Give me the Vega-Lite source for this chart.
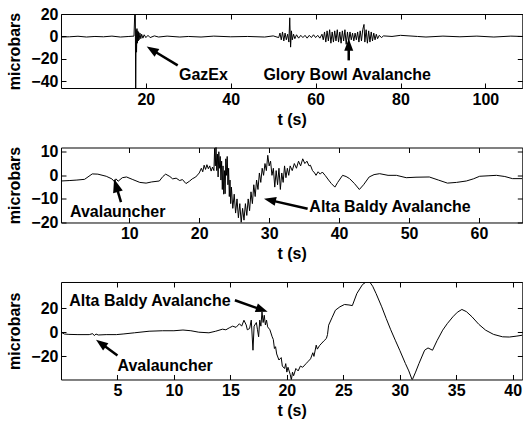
{
  "$schema": "https://vega.github.io/schema/vega-lite/v6.json",
  "padding": {"left": 6, "top": 5, "right": 0, "bottom": 0},
  "bounds": "flush",
  "spacing": 59.5,
  "config": {
    "font": "Liberation Sans",
    "view": {"stroke": "black", "strokeWidth": 1},
    "axis": {
      "domain": false, "grid": false,
      "labelFont": "Liberation Sans", "labelFontSize": 16, "labelFontWeight": "bold", "labelColor": "black",
      "titleFont": "Liberation Sans", "titleFontSize": 16, "titleFontWeight": "bold", "titleColor": "black",
      "tickColor": "black", "tickSize": -5, "labelPadding": 8, "labelFlush": false, "labelOverlap": false
    },
    "axisLeft": {"titlePadding": 8}
  },
  "datasets": {
    "p1": [
      {"t":0,"v":-0.5},{"t":2,"v":-0.3},{"t":4,"v":0.2},{"t":6,"v":-0.5},{"t":8,"v":0},{"t":10,"v":-0.3},{"t":12,"v":0.3},{"t":14,"v":-0.5},{"t":16,"v":0},{"t":17.2,"v":0.3},
      {"t":17.5,"v":35},{"t":17.6,"v":-60},{"t":17.7,"v":6},{"t":17.8,"v":-14},{"t":17.9,"v":7},{"t":18.0,"v":-6},{"t":18.1,"v":5},{"t":18.2,"v":-4},{"t":18.3,"v":4},{"t":18.4,"v":-3},{"t":18.6,"v":3},{"t":18.8,"v":-2},{"t":19.0,"v":2},{"t":19.3,"v":-1.5},{"t":19.6,"v":1.5},{"t":20,"v":-1},{"t":20.5,"v":1},{"t":21,"v":-1},{"t":22,"v":0.5},{"t":23,"v":-0.5},{"t":25,"v":0.3},{"t":28,"v":-0.5},{"t":30,"v":0},{"t":33,"v":-0.5},{"t":36,"v":0.3},{"t":40,"v":-0.3},{"t":44,"v":0},{"t":48,"v":-0.5},{"t":50,"v":0.5},
      {"t":51.3,"v":-1},{"t":51.6,"v":3},{"t":51.9,"v":-3},{"t":52.2,"v":4},{"t":52.5,"v":-4},{"t":52.8,"v":3},{"t":53.1,"v":-3},{"t":53.4,"v":2},{"t":53.7,"v":-5},{"t":53.9,"v":16.6},{"t":54.1,"v":-9.5},{"t":54.3,"v":5},{"t":54.5,"v":-3},{"t":54.8,"v":2},{"t":55.1,"v":-2},{"t":55.5,"v":1.5},{"t":56,"v":-1.5},{"t":56.5,"v":1},{"t":57,"v":-1},{"t":57.5,"v":1},{"t":58,"v":-1.5},{"t":58.5,"v":1},{"t":59,"v":-1},{"t":59.5,"v":1.5},{"t":60,"v":-1},{"t":60.5,"v":1},{"t":61,"v":-1.5},{"t":61.5,"v":2},
      {"t":61.8,"v":-3},{"t":62.1,"v":4},{"t":62.4,"v":-5},{"t":62.7,"v":5},{"t":63,"v":-4},{"t":63.3,"v":6},{"t":63.6,"v":-6},{"t":63.9,"v":4},{"t":64.2,"v":-5},{"t":64.5,"v":5},{"t":64.8,"v":-4},{"t":65.1,"v":6},{"t":65.4,"v":-5},{"t":65.7,"v":4},{"t":66,"v":-6},{"t":66.3,"v":5},{"t":66.6,"v":-4},{"t":66.9,"v":6},{"t":67.2,"v":-7},{"t":67.5,"v":4},{"t":67.8,"v":-5},{"t":68.1,"v":4},{"t":68.4,"v":-3},{"t":68.7,"v":3},{"t":69,"v":-4},{"t":69.3,"v":3},{"t":69.6,"v":-3},{"t":69.9,"v":4},{"t":70.2,"v":-5},{"t":70.5,"v":5},{"t":70.8,"v":-4},{"t":71.1,"v":6},{"t":71.4,"v":10.7},{"t":71.6,"v":-5},{"t":71.9,"v":6},{"t":72.2,"v":-6},{"t":72.5,"v":5},{"t":72.8,"v":-5},{"t":73.1,"v":4},{"t":73.4,"v":-4},{"t":73.7,"v":3},{"t":74,"v":-3},{"t":74.3,"v":2},{"t":74.6,"v":-2},{"t":75,"v":1},{"t":75.5,"v":-1},{"t":76,"v":0.5},{"t":78,"v":0},{"t":80,"v":1},{"t":82,"v":0.5},{"t":84,"v":0},{"t":86,"v":-0.5},{"t":90,"v":0.3},{"t":94,"v":-0.3},{"t":98,"v":0.3},{"t":102,"v":-0.5},{"t":106,"v":0.3},{"t":108.7,"v":0}
    ],
    "p2": [
      {"t":0.23,"v":-2.4},{"t":1.5,"v":-2.2},{"t":2.5,"v":-2.0},{"t":3.6,"v":-1.7},{"t":4.7,"v":0.6},{"t":5.5,"v":0.5},{"t":6.7,"v":-0.4},{"t":7.5,"v":-1.5},{"t":7.9,"v":-2.8},{"t":8.1,"v":-1.5},{"t":8.4,"v":-2.5},{"t":9.0,"v":-1},{"t":9.6,"v":-0.7},{"t":10.5,"v":-1.8},{"t":11.5,"v":-3},{"t":12.4,"v":-3.3},{"t":13.2,"v":-2.8},{"t":14.3,"v":-2.4},{"t":14.8,"v":-0.5},{"t":15.2,"v":0.5},{"t":15.8,"v":-0.5},{"t":16.2,"v":-1.5},{"t":16.7,"v":-1.2},{"t":17.2,"v":-2.2},{"t":17.6,"v":-1.8},{"t":18.1,"v":-3.5},{"t":18.6,"v":-2.5},{"t":19.0,"v":-1.5},{"t":19.5,"v":-0.7},
      {"t":20.0,"v":1},{"t":20.3,"v":3},{"t":20.5,"v":1.5},{"t":20.7,"v":4.3},{"t":20.9,"v":2.5},{"t":21.1,"v":4.5},{"t":21.3,"v":2.8},{"t":21.5,"v":4},{"t":21.7,"v":1.8},{"t":21.9,"v":3.5},{"t":22.1,"v":2},{"t":22.2,"v":11.5},{"t":22.3,"v":4},{"t":22.4,"v":12},{"t":22.5,"v":2},{"t":22.6,"v":9},{"t":22.7,"v":-0.7},{"t":22.8,"v":10},{"t":22.9,"v":3},{"t":23.0,"v":8},{"t":23.1,"v":-2},{"t":23.2,"v":6},{"t":23.3,"v":-6},{"t":23.4,"v":4},{"t":23.5,"v":-8},{"t":23.6,"v":2},{"t":23.7,"v":-7.8},{"t":23.8,"v":7},{"t":23.9,"v":0},{"t":24.0,"v":8},{"t":24.1,"v":-4},{"t":24.2,"v":3},{"t":24.3,"v":-9},{"t":24.4,"v":-2},{"t":24.5,"v":-12},{"t":24.6,"v":-5},{"t":24.8,"v":-14},{"t":25.0,"v":-8},{"t":25.2,"v":-16},{"t":25.4,"v":-10},{"t":25.6,"v":-18},{"t":25.8,"v":-12},{"t":26.0,"v":-20},{"t":26.2,"v":-14},{"t":26.4,"v":-19},{"t":26.6,"v":-12},{"t":26.8,"v":-17},{"t":27.0,"v":-10},{"t":27.2,"v":-15},{"t":27.4,"v":-7},{"t":27.6,"v":-12},{"t":27.8,"v":-4},{"t":28.0,"v":-9},{"t":28.2,"v":-2},{"t":28.4,"v":-6},{"t":28.6,"v":1},{"t":28.8,"v":-3},{"t":29.0,"v":3},{"t":29.2,"v":0},{"t":29.4,"v":5},{"t":29.6,"v":2},{"t":29.8,"v":8.5},{"t":30.0,"v":4},{"t":30.2,"v":6},{"t":30.4,"v":0},{"t":30.6,"v":3},{"t":30.8,"v":-5},{"t":31.0,"v":2},{"t":31.2,"v":-4},{"t":31.4,"v":3},{"t":31.6,"v":-6},{"t":31.8,"v":1},{"t":32.0,"v":-3},{"t":32.2,"v":4},{"t":32.4,"v":-1},{"t":32.6,"v":3},{"t":32.8,"v":0},{"t":33.0,"v":4},{"t":33.3,"v":2},{"t":33.6,"v":5},{"t":33.9,"v":3},{"t":34.2,"v":6},{"t":34.5,"v":4},{"t":34.8,"v":7},{"t":35.1,"v":5},{"t":35.4,"v":6},{"t":35.7,"v":4},{"t":35.9,"v":4.3},{"t":36.2,"v":2},{"t":36.5,"v":1},{"t":36.7,"v":0},{"t":37.0,"v":1.5},{"t":37.3,"v":0.5},{"t":37.6,"v":1.4},
      {"t":38.0,"v":0},{"t":38.5,"v":-2},{"t":38.9,"v":-3.5},{"t":39.4,"v":-5},{"t":39.8,"v":-3},{"t":40.5,"v":0},{"t":41.0,"v":-0.5},{"t":41.5,"v":-1.4},{"t":42.2,"v":-3.5},{"t":42.9,"v":-6},{"t":43.5,"v":-4},{"t":44.3,"v":-0.7},{"t":45.0,"v":0.3},{"t":45.8,"v":0.7},{"t":47.0,"v":0},{"t":48.2,"v":0},{"t":49.6,"v":-1},{"t":51.0,"v":-0.8},{"t":52.9,"v":-0.7},{"t":54.2,"v":-2},{"t":55.5,"v":-3.3},{"t":56.8,"v":-3},{"t":58.2,"v":-2.4},{"t":59.2,"v":-1.5},{"t":60.1,"v":-0.4},{"t":61.3,"v":-0.2},{"t":62.5,"v":0},{"t":63.7,"v":-0.5},{"t":64.8,"v":-1.4},{"t":66.2,"v":-1.4}
    ],
    "p3": [
      {"t":0,"v":0},{"t":0.3,"v":-1.5},{"t":0.7,"v":-1.8},{"t":1.5,"v":-2},{"t":2.5,"v":-2},{"t":2.8,"v":-1.2},{"t":2.95,"v":-2.8},{"t":3.1,"v":-1.5},{"t":3.3,"v":-2.3},{"t":4.0,"v":-2},{"t":4.9,"v":-2},{"t":5.5,"v":-1.5},{"t":6.5,"v":-0.5},{"t":7.8,"v":0.8},{"t":9.0,"v":1.2},{"t":10.0,"v":1.2},{"t":10.8,"v":1.8},{"t":11.5,"v":1.2},{"t":12.2,"v":0},{"t":13.1,"v":-0.5},{"t":13.7,"v":0.8},{"t":14.3,"v":2.5},{"t":14.6,"v":2},{"t":14.9,"v":3.6},{"t":15.2,"v":5},{"t":15.5,"v":4},{"t":15.8,"v":7},{"t":16.0,"v":5},{"t":16.2,"v":9.9},{"t":16.4,"v":6},{"t":16.5,"v":2},{"t":16.7,"v":3},{"t":16.85,"v":10},{"t":17.0,"v":-14.9},{"t":17.1,"v":5},{"t":17.3,"v":8},{"t":17.4,"v":2},{"t":17.5,"v":-3.8},{"t":17.6,"v":10},{"t":17.7,"v":5},{"t":17.8,"v":16.8},{"t":17.9,"v":8},{"t":18.0,"v":14},{"t":18.1,"v":6},{"t":18.2,"v":10},{"t":18.3,"v":4.4},{"t":18.5,"v":2},{"t":18.7,"v":-3.8},{"t":18.8,"v":-6},{"t":18.9,"v":-13.5},{"t":19.0,"v":-12},{"t":19.1,"v":-18},{"t":19.3,"v":-23},{"t":19.5,"v":-21},{"t":19.6,"v":-28},{"t":19.8,"v":-30},{"t":19.9,"v":-26},{"t":20.0,"v":-33},{"t":20.1,"v":-29},{"t":20.3,"v":-35},{"t":20.4,"v":-39.5},{"t":20.5,"v":-33},{"t":20.6,"v":-36},{"t":20.8,"v":-30},{"t":21.0,"v":-32},{"t":21.2,"v":-28},{"t":21.4,"v":-29},{"t":21.7,"v":-26},{"t":21.9,"v":-24},{"t":22.1,"v":-22},{"t":22.3,"v":-17},{"t":22.4,"v":-20},{"t":22.6,"v":-10.7},{"t":22.7,"v":-14},{"t":22.9,"v":-11},{"t":23.1,"v":-9},{"t":23.3,"v":-7},{"t":23.5,"v":-5.2},{"t":23.6,"v":-2},{"t":23.7,"v":5.8},{"t":24.0,"v":12},{"t":24.3,"v":18.2},{"t":24.7,"v":21},{"t":25.1,"v":22.9},{"t":25.5,"v":22.5},{"t":25.8,"v":22},{"t":26.2,"v":32},{"t":26.7,"v":39.4},{"t":27.1,"v":42},{"t":27.3,"v":42},{"t":27.6,"v":38},{"t":27.9,"v":32},{"t":28.4,"v":21},{"t":28.8,"v":11.3},{"t":29.2,"v":2},{"t":29.6,"v":-6.6},{"t":30.0,"v":-15},{"t":30.5,"v":-25.9},{"t":30.8,"v":-32},{"t":31.1,"v":-39.5},{"t":31.4,"v":-33},{"t":31.7,"v":-25.9},{"t":32.2,"v":-14.9},{"t":32.5,"v":-13},{"t":32.9,"v":-14.9},{"t":33.3,"v":-7},{"t":33.8,"v":1.7},{"t":34.2,"v":7},{"t":34.7,"v":12.7},{"t":35.1,"v":16.5},{"t":35.5,"v":18.8},{"t":35.9,"v":17},{"t":36.4,"v":12.7},{"t":37.0,"v":6.5},{"t":37.6,"v":1.7},{"t":38.3,"v":-1.8},{"t":39.1,"v":-3.8},{"t":39.7,"v":-4},{"t":40.3,"v":-3.3},{"t":40.85,"v":-2.5}
    ],
    "lab1": [{"t":27.8,"v":-34.7,"label":"GazEx"},{"t":47.7,"v":-34.7,"label":"Glory Bowl Avalanche"}],
    "arr1": [{"name":"GazEx","t":27.5,"v":-25.8,"ht":21.4,"hv":-11.8},{"name":"Glory","t":67.8,"v":-21.3,"ht":67.8,"hv":-7.4}],
    "lab2": [{"t":1.52,"v":-15.6,"label":"Avalauncher"},{"t":35.75,"v":-13.5,"label":"Alta Baldy Avalanche"}],
    "arr2": [{"name":"Aval","t":8.81,"v":-11.4,"ht":8.1,"hv":-4.3},{"name":"Alta","t":35.5,"v":-14.2,"ht":30.1,"hv":-10.5}],
    "lab3": [{"t":0.73,"v":25.6,"label":"Alta Baldy Avalanche"},{"t":5.0,"v":-28.3,"label":"Avalauncher"}],
    "arr3": [{"name":"Alta","t":15.4,"v":26.4,"ht":17.8,"hv":18.5},{"name":"Aval","t":5.0,"v":-19.3,"ht":3.53,"hv":-9.2}]
  },
  "vconcat": [
    {
      "width": 461.3, "height": 74,
      "resolve": {"axis": {"x": "independent", "y": "independent"}},
      "layer": [
        {"data": {"name": "p1"}, "mark": {"type": "line", "color": "black", "strokeWidth": 1, "clip": true},
         "encoding": {
           "x": {"field": "t", "type": "quantitative", "scale": {"domain": [0, 108.7], "nice": false, "zero": false}, "axis": {"values": [20,40,60,80,100], "title": "t (s)"}},
           "y": {"field": "v", "type": "quantitative", "scale": {"domain": [-45.9, 20], "nice": false, "zero": false}, "axis": {"values": [-40,-20,0,20], "title": "microbars"}}}},
        {"data": {"name": "arr1"}, "mark": {"type": "rule", "color": "black", "strokeWidth": 2.5},
         "encoding": {
           "x": {"field": "t", "type": "quantitative", "scale": {"domain": [0, 108.7], "nice": false, "zero": false}, "axis": {"orient": "top", "values": [20,40,60,80,100], "labels": false, "title": null}},
           "y": {"field": "v", "type": "quantitative", "scale": {"domain": [-45.9, 20], "nice": false, "zero": false}, "axis": {"orient": "right", "values": [-40,-20,0,20], "labels": false, "title": null}},
           "x2": {"field": "ht"}, "y2": {"field": "hv"}}},
        {"data": {"name": "arr1"}, "transform": [{"filter": "datum.name == 'GazEx'"}],
         "mark": {"type": "point", "shape": "M0,-1L0.75,1L-0.75,1Z", "filled": true, "opacity": 1, "color": "black", "size": 144, "angle": 301.4},
         "encoding": {"x": {"field": "ht", "type": "quantitative", "scale": {"domain": [0, 108.7], "nice": false, "zero": false}, "axis": null},
                      "y": {"field": "hv", "type": "quantitative", "scale": {"domain": [-45.9, 20], "nice": false, "zero": false}, "axis": null}}},
        {"data": {"name": "arr1"}, "transform": [{"filter": "datum.name == 'Glory'"}],
         "mark": {"type": "point", "shape": "M0,-1L0.75,1L-0.75,1Z", "filled": true, "opacity": 1, "color": "black", "size": 144, "angle": 0},
         "encoding": {"x": {"field": "ht", "type": "quantitative", "scale": {"domain": [0, 108.7], "nice": false, "zero": false}, "axis": null},
                      "y": {"field": "hv", "type": "quantitative", "scale": {"domain": [-45.9, 20], "nice": false, "zero": false}, "axis": null}}},
        {"data": {"name": "lab1"}, "mark": {"type": "text", "align": "left", "baseline": "middle", "font": "Liberation Sans", "fontSize": 16, "fontWeight": "bold", "color": "black"},
         "encoding": {"x": {"field": "t", "type": "quantitative", "scale": {"domain": [0, 108.7], "nice": false, "zero": false}, "axis": null},
                      "y": {"field": "v", "type": "quantitative", "scale": {"domain": [-45.9, 20], "nice": false, "zero": false}, "axis": null},
                      "text": {"field": "label"}}}
      ]
    },
    {
      "width": 461.3, "height": 75,
      "resolve": {"axis": {"x": "independent", "y": "independent"}},
      "layer": [
        {"data": {"name": "p2"}, "mark": {"type": "line", "color": "black", "strokeWidth": 1, "clip": true},
         "encoding": {
           "x": {"field": "t", "type": "quantitative", "scale": {"domain": [0.23, 66.2], "nice": false, "zero": false}, "axis": {"values": [10,20,30,40,50,60], "title": "t (s)"}},
           "y": {"field": "v", "type": "quantitative", "scale": {"domain": [-20, 11.8], "nice": false, "zero": false}, "axis": {"values": [-20,-10,0,10], "title": "microbars"}}}},
        {"data": {"name": "arr2"}, "mark": {"type": "rule", "color": "black", "strokeWidth": 2.5},
         "encoding": {
           "x": {"field": "t", "type": "quantitative", "scale": {"domain": [0.23, 66.2], "nice": false, "zero": false}, "axis": {"orient": "top", "values": [10,20,30,40,50,60], "labels": false, "title": null}},
           "y": {"field": "v", "type": "quantitative", "scale": {"domain": [-20, 11.8], "nice": false, "zero": false}, "axis": {"orient": "right", "values": [-20,-10,0,10], "labels": false, "title": null}},
           "x2": {"field": "ht"}, "y2": {"field": "hv"}}},
        {"data": {"name": "arr2"}, "transform": [{"filter": "datum.name == 'Aval'"}],
         "mark": {"type": "point", "shape": "M0,-1L0.75,1L-0.75,1Z", "filled": true, "opacity": 1, "color": "black", "size": 180, "angle": 343.3},
         "encoding": {"x": {"field": "ht", "type": "quantitative", "scale": {"domain": [0.23, 66.2], "nice": false, "zero": false}, "axis": null},
                      "y": {"field": "hv", "type": "quantitative", "scale": {"domain": [-20, 11.8], "nice": false, "zero": false}, "axis": null}}},
        {"data": {"name": "arr2"}, "transform": [{"filter": "datum.name == 'Alta'"}],
         "mark": {"type": "point", "shape": "M0,-1L0.75,1L-0.75,1Z", "filled": true, "opacity": 1, "color": "black", "size": 144, "angle": 283},
         "encoding": {"x": {"field": "ht", "type": "quantitative", "scale": {"domain": [0.23, 66.2], "nice": false, "zero": false}, "axis": null},
                      "y": {"field": "hv", "type": "quantitative", "scale": {"domain": [-20, 11.8], "nice": false, "zero": false}, "axis": null}}},
        {"data": {"name": "lab2"}, "mark": {"type": "text", "align": "left", "baseline": "middle", "font": "Liberation Sans", "fontSize": 16, "fontWeight": "bold", "color": "black"},
         "encoding": {"x": {"field": "t", "type": "quantitative", "scale": {"domain": [0.23, 66.2], "nice": false, "zero": false}, "axis": null},
                      "y": {"field": "v", "type": "quantitative", "scale": {"domain": [-20, 11.8], "nice": false, "zero": false}, "axis": null},
                      "text": {"field": "label"}}}
      ]
    },
    {
      "width": 461.3, "height": 97.5,
      "resolve": {"axis": {"x": "independent", "y": "independent"}},
      "layer": [
        {"data": {"name": "p3"}, "mark": {"type": "line", "color": "black", "strokeWidth": 1, "clip": true},
         "encoding": {
           "x": {"field": "t", "type": "quantitative", "scale": {"domain": [0, 40.85], "nice": false, "zero": false}, "axis": {"values": [5,10,15,20,25,30,35,40], "title": "t (s)"}},
           "y": {"field": "v", "type": "quantitative", "scale": {"domain": [-39.1, 41.5], "nice": false, "zero": false}, "axis": {"values": [-20,0,20], "title": "microbars"}}}},
        {"data": {"name": "arr3"}, "mark": {"type": "rule", "color": "black", "strokeWidth": 2.5},
         "encoding": {
           "x": {"field": "t", "type": "quantitative", "scale": {"domain": [0, 40.85], "nice": false, "zero": false}, "axis": {"orient": "top", "values": [5,10,15,20,25,30,35,40], "labels": false, "title": null}},
           "y": {"field": "v", "type": "quantitative", "scale": {"domain": [-39.1, 41.5], "nice": false, "zero": false}, "axis": {"orient": "right", "values": [-20,0,20], "labels": false, "title": null}},
           "x2": {"field": "ht"}, "y2": {"field": "hv"}}},
        {"data": {"name": "arr3"}, "transform": [{"filter": "datum.name == 'Alta'"}],
         "mark": {"type": "point", "shape": "M0,-1L0.75,1L-0.75,1Z", "filled": true, "opacity": 1, "color": "black", "size": 144, "angle": 109.8},
         "encoding": {"x": {"field": "ht", "type": "quantitative", "scale": {"domain": [0, 40.85], "nice": false, "zero": false}, "axis": null},
                      "y": {"field": "hv", "type": "quantitative", "scale": {"domain": [-39.1, 41.5], "nice": false, "zero": false}, "axis": null}}},
        {"data": {"name": "arr3"}, "transform": [{"filter": "datum.name == 'Aval'"}],
         "mark": {"type": "point", "shape": "M0,-1L0.75,1L-0.75,1Z", "filled": true, "opacity": 1, "color": "black", "size": 144, "angle": 306},
         "encoding": {"x": {"field": "ht", "type": "quantitative", "scale": {"domain": [0, 40.85], "nice": false, "zero": false}, "axis": null},
                      "y": {"field": "hv", "type": "quantitative", "scale": {"domain": [-39.1, 41.5], "nice": false, "zero": false}, "axis": null}}},
        {"data": {"name": "lab3"}, "mark": {"type": "text", "align": "left", "baseline": "middle", "font": "Liberation Sans", "fontSize": 16, "fontWeight": "bold", "color": "black"},
         "encoding": {"x": {"field": "t", "type": "quantitative", "scale": {"domain": [0, 40.85], "nice": false, "zero": false}, "axis": null},
                      "y": {"field": "v", "type": "quantitative", "scale": {"domain": [-39.1, 41.5], "nice": false, "zero": false}, "axis": null},
                      "text": {"field": "label"}}}
      ]
    }
  ]
}
